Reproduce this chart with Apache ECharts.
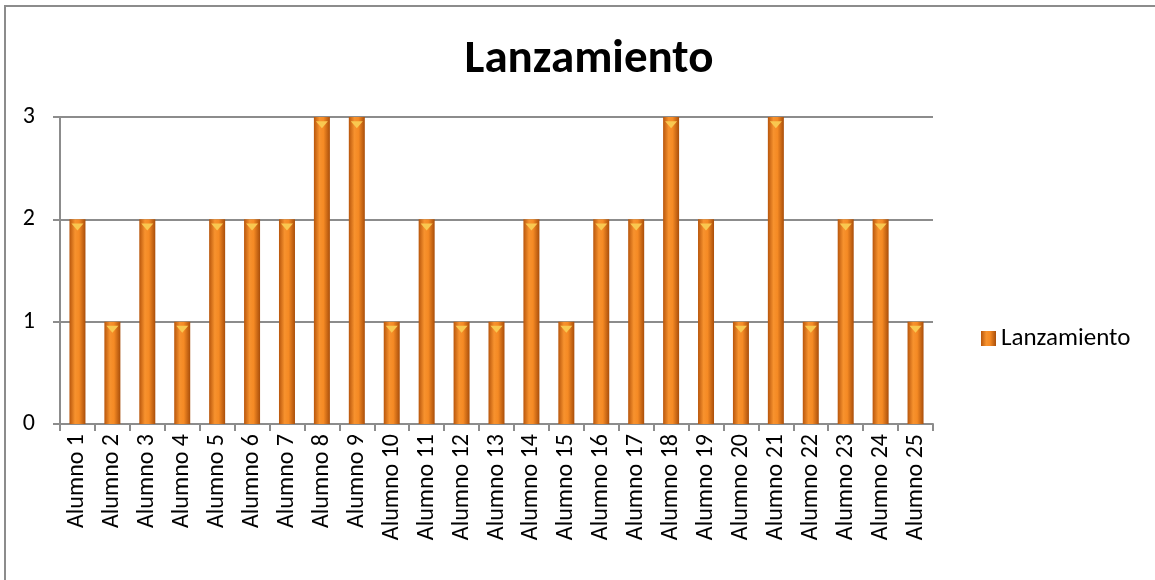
<!DOCTYPE html>
<html>
<head>
<meta charset="utf-8">
<script src="https://cdn.jsdelivr.net/npm/echarts@6/dist/echarts.min.js"></script>
<style>
  html, body { margin: 0; padding: 0; background: #fff; }
  #frame { position: absolute; left: 4px; top: 5px; width: 1160px; height: 590px;
           border-left: 2px solid #8c8c8c; border-top: 2px solid #8c8c8c; }
  #chart { position: absolute; left: 0; top: 0; width: 1155px; height: 580px; }
</style>
</head>
<body>
<div id="frame"></div>
<div id="chart"></div>
<script>
  // categorías
  const alumnos = [];
  for (let i = 1; i <= 25; i++) alumnos.push("Alumno " + i);
  // valores
  const lanzamiento = [2, 1, 2, 1, 2, 2, 2, 3, 3, 1, 2, 1, 1, 2, 1, 2, 2, 3, 2, 1, 3, 1, 2, 2, 1];
  const yTicks = [0, 1, 2, 3];

  const fuente = "Carlito, 'Open Sans'";
  const myChart = echarts.init(document.getElementById("chart"));
  const barGradient = new echarts.graphic.LinearGradient(0, 0, 1, 0, [
    { offset: 0, color: "#b8560c" },
    { offset: 0.35, color: "#f7922e" },
    { offset: 0.6, color: "#f58a24" },
    { offset: 1, color: "#a94e0a" },
  ]);
  const option = {
    animation: false,
    title: {
      text: "Lanzamiento",
      left: 584,
      textAlign: "center",
      top: 32,
      textStyle: { fontFamily: fuente, fontWeight: "bold", fontSize: 47, color: "#000" },
    },
    legend: {
      data: [{ name: "Lanzamiento", icon: "rect" }],
      left: 976,
      top: 321,
      itemWidth: 15,
      itemHeight: 15,
      itemGap: 6,
      textStyle: { fontFamily: fuente, fontSize: 25, color: "#000" },
    },
    grid: { left: 60, right: 222, top: 117, bottom: 156 },
    xAxis: {
      type: "category",
      data: alumnos,
      axisLine: { lineStyle: { color: "#8c8c8c", width: 2 } },
      axisTick: { show: true, length: 7, lineStyle: { color: "#8c8c8c", width: 2 } },
      axisLabel: {
        rotate: 90,
        margin: 10,
        interval: 0,
        fontFamily: fuente,
        fontSize: 24,
        color: "#000",
      },
    },
    yAxis: {
      type: "value",
      min: yTicks[0],
      max: yTicks[yTicks.length - 1],
      interval: 1,
      axisLine: { show: true, lineStyle: { color: "#8c8c8c", width: 2 } },
      axisTick: { show: true, length: 7, lineStyle: { color: "#8c8c8c", width: 2 } },
      splitLine: { lineStyle: { color: "#8c8c8c", width: 2 } },
      axisLabel: { margin: 25, fontFamily: fuente, fontSize: 24, color: "#000" },
    },
    series: [
      {
        name: "Lanzamiento",
        type: "bar",
        data: lanzamiento,
        barWidth: 16,
        itemStyle: { color: barGradient },
        z: 2,
      },
      {
        name: "tapa",
        type: "pictorialBar",
        data: lanzamiento,
        symbol: "triangle",
        symbolRotate: 180,
        symbolSize: [12, 7],
        symbolPosition: "end",
        symbolOffset: [0, "60%"],
        barGap: "-100%",
        itemStyle: { color: "#f9c850" },
        silent: true,
        z: 3,
      },
    ],
  };
  myChart.setOption(option);
</script>
</body>
</html>
